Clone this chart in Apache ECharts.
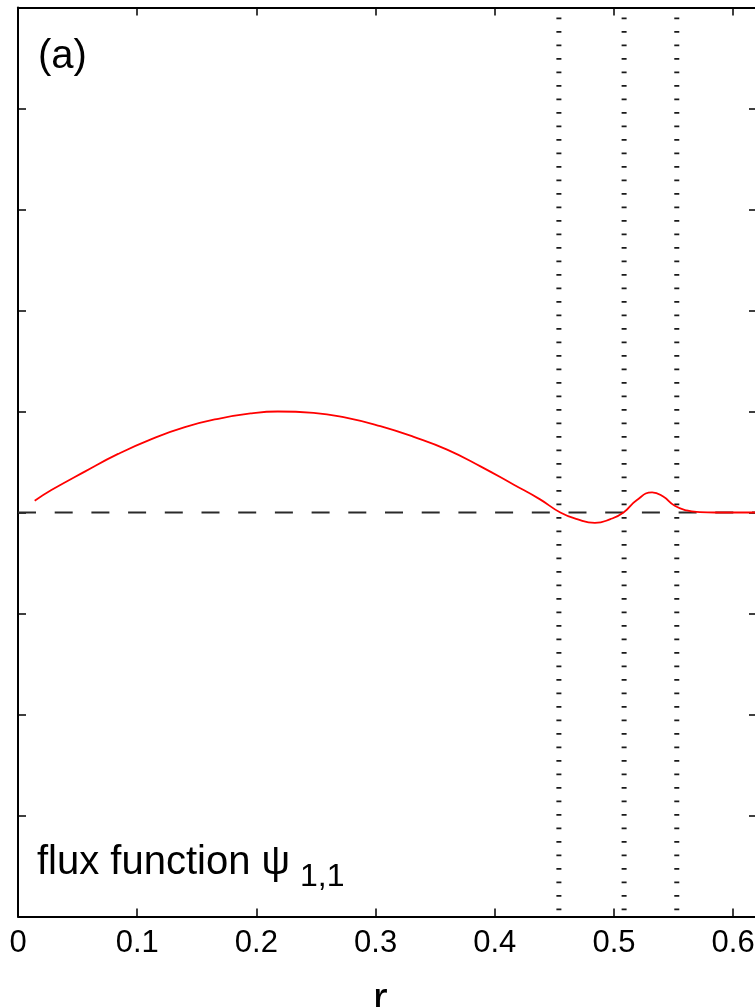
<!DOCTYPE html>
<html>
<head>
<meta charset="utf-8">
<script src="https://cdn.jsdelivr.net/npm/echarts@6/dist/echarts.min.js"></script>
<style>
  html, body { margin: 0; padding: 0; overflow: hidden; background: #ffffff; }
  #chart { width: 760px; height: 1007px; }
</style>
</head>
<body>
<div id="chart"></div>
<script>
// Radial coordinate and the (1,1) flux function profile
const radius = [0.014, 0.028, 0.056, 0.084, 0.112, 0.14, 0.168, 0.196, 0.218, 0.248, 0.276, 0.304,
                0.332, 0.36, 0.388, 0.416, 0.438, 0.455, 0.469, 0.484, 0.497, 0.508, 0.519, 0.532,
                0.541, 0.551, 0.561, 0.572, 0.585, 0.62];
const psi11 = [0.116, 0.222, 0.405, 0.58, 0.727, 0.845, 0.928, 0.982, 1.0, 0.987, 0.937, 0.855,
               0.749, 0.623, 0.457, 0.275, 0.13, 0.0, -0.066, -0.103, -0.066, 0.0, 0.122, 0.199,
               0.16, 0.066, 0.02, 0.004, 0.0, 0.0];

// Rational surface positions (vertical dotted markers)
const surfaces = [0.4538, 0.5085, 0.5527];

// Axis settings
const xLimits = [0, 0.62];
const yLimits = [-4, 5];
const xTickValues = [0, 0.1, 0.2, 0.3, 0.4, 0.5, 0.6];
const xTickLabels = ['0', '0.1', '0.2', '0.3', '0.4', '0.5', '0.6'];

const FONT = '"Liberation Sans", Arial, Helvetica, sans-serif';

const curveData = radius.map((r, i) => [r, psi11[i]]);
const zeroData = [[xLimits[0], 0], [xLimits[1], 0]];

function tickLabel(v) {
  const k = xTickValues.findIndex(t => Math.abs(t - v) < 1e-9);
  return k >= 0 ? xTickLabels[k] : '';
}

const axisLineStyle = { color: '#000', width: 2 };
const tickStyle = { color: '#000', width: 1.5 };

const series = [
  {
    type: 'line',
    data: zeroData,
    xAxisIndex: 0, yAxisIndex: 0,
    symbol: 'none',
    silent: true,
    lineStyle: { color: '#2a2a2a', width: 2, type: [18, 18.7], cap: 'butt' },
    z: 2
  }
];
surfaces.forEach(r => {
  series.push({
    type: 'line',
    data: [[r, yLimits[1]], [r, yLimits[0]]],
    xAxisIndex: 0, yAxisIndex: 0,
    symbol: 'none',
    silent: true,
    lineStyle: { color: '#1a1a1a', width: 5, type: [1.8, 11.7], dashOffset: -10, cap: 'butt' },
    z: 2
  });
});
series.push({
  type: 'line',
  data: curveData,
  xAxisIndex: 0, yAxisIndex: 0,
  symbol: 'none',
  smooth: 0.5,
  lineStyle: { color: '#ff0000', width: 1.8 },
  z: 3
});

const chart = echarts.init(document.getElementById('chart'), null, { renderer: 'canvas' });
chart.setOption({
  animation: false,
  backgroundColor: '#ffffff',
  grid: { left: 18, right: 3, top: 7.5, bottom: 90.5, containLabel: false },
  xAxis: [
    {
      type: 'value', position: 'bottom',
      min: xLimits[0], max: xLimits[1], interval: 0.1,
      axisLine: { onZero: false, lineStyle: axisLineStyle },
      axisTick: { inside: true, length: 8, lineStyle: tickStyle },
      axisLabel: { color: '#000', fontFamily: FONT, fontSize: 31, margin: 11, formatter: tickLabel },
      splitLine: { show: false }
    },
    {
      type: 'value', position: 'top',
      min: xLimits[0], max: xLimits[1], interval: 0.1,
      axisLine: { onZero: false, lineStyle: axisLineStyle },
      axisTick: { inside: true, length: 8, lineStyle: tickStyle },
      axisLabel: { show: false },
      splitLine: { show: false }
    }
  ],
  yAxis: [
    {
      type: 'value', position: 'left',
      min: yLimits[0], max: yLimits[1], interval: 1,
      axisLine: { onZero: false, lineStyle: axisLineStyle },
      axisTick: { inside: true, length: 8, lineStyle: tickStyle },
      axisLabel: { show: false },
      splitLine: { show: false }
    },
    {
      type: 'value', position: 'right',
      min: yLimits[0], max: yLimits[1], interval: 1,
      axisLine: { onZero: false, lineStyle: axisLineStyle },
      axisTick: { inside: true, length: 8, lineStyle: tickStyle },
      axisLabel: { show: false },
      splitLine: { show: false }
    }
  ],
  graphic: [
    {
      type: 'text', left: 38, top: 37,
      style: { text: '(a)', fontFamily: FONT, fontSize: 40, fill: '#000' }
    },
    {
      type: 'text', left: 37, top: 843,
      style: { text: 'flux function \u03c8', fontFamily: FONT, fontSize: 40, fill: '#000' }
    },
    {
      type: 'text', left: 300, top: 861,
      style: { text: '1,1', fontFamily: FONT, fontSize: 32, fill: '#000' }
    },
    {
      type: 'text', left: 373, top: 979,
      style: { text: 'r', fontFamily: FONT, fontSize: 44, fill: '#000' }
    }
  ],
  series: series
});
</script>
</body>
</html>
